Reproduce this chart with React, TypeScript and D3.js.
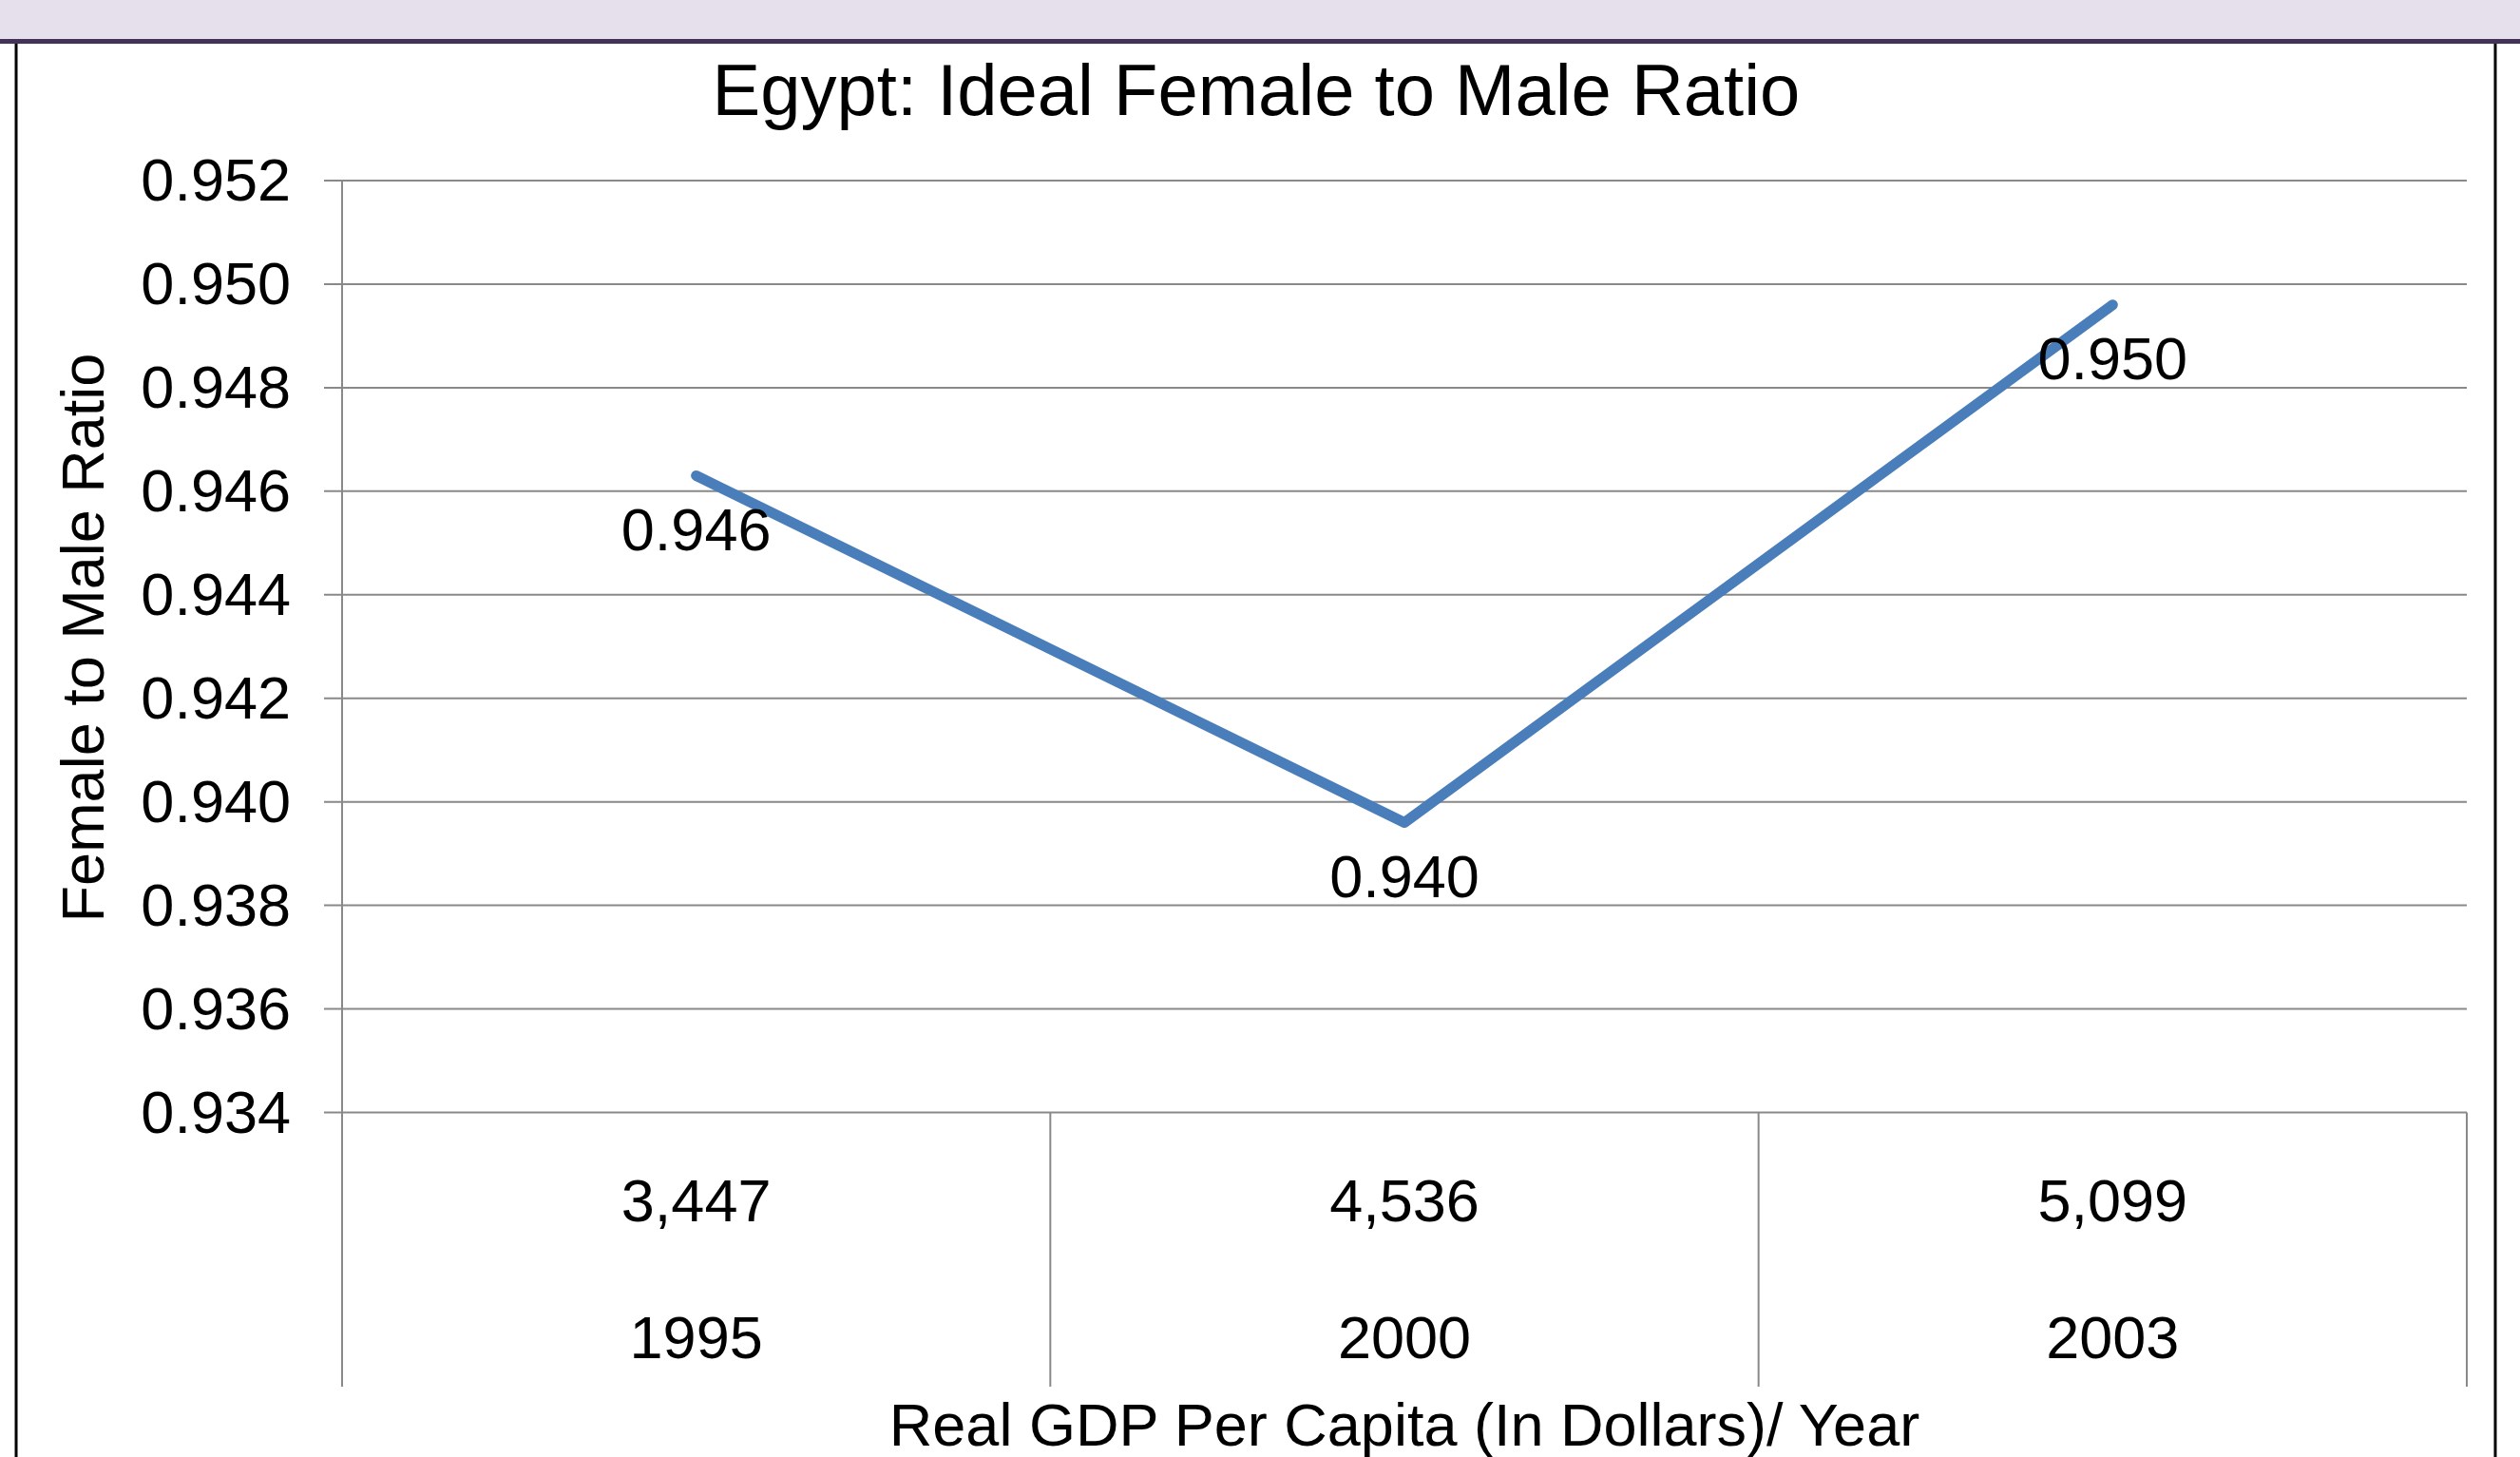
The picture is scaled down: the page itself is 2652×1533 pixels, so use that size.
import React from "react";
import * as d3 from "d3";

const years = ["1995", "2000", "2003"];
const gdpLabels = ["3,447", "4,536", "5,099"];
const ratios = [0.9463, 0.9396, 0.9496];
const ratioLabels = ["0.946", "0.940", "0.950"];
const yTicks = [0.934, 0.936, 0.938, 0.94, 0.942, 0.944, 0.946, 0.948, 0.95, 0.952];

const W = 2652;
const H = 1533;
const FONT = "'Liberation Sans', Arial, sans-serif";

export default function App() {
  const plotL = 360;
  const plotR = 2596;
  const plotT = 190;
  const plotB = 1170.5;
  const catBottom = 1459;

  const x = d3.scaleBand<string>().domain(years).range([plotL, plotR]).paddingInner(0).paddingOuter(0);
  const y = d3.scaleLinear().domain([0.934, 0.952]).range([plotB, plotT]);
  const cx = (yr: string) => (x(yr) as number) + x.bandwidth() / 2;

  const pts = years.map((yr, i) => ({ yr, v: ratios[i], label: ratioLabels[i], gdp: gdpLabels[i] }));
  const line = d3
    .line<{ yr: string; v: number }>()
    .x((d) => cx(d.yr))
    .y((d) => y(d.v));

  const grid = "#898989";
  const dividers = [...years.map((yr) => x(yr) as number), plotR];

  return (
    <svg
      width={W}
      height={H}
      viewBox={`0 0 ${W} ${H}`}
      style={{ position: "absolute", left: 0, top: 0, display: "block", background: "#fff" }}
      fontFamily={FONT}
    >
      <rect x={0} y={0} width={W} height={H} fill="#ffffff" />
      {/* top band */}
      <rect x={0} y={0} width={W} height={41} fill="#E5E0EC" />
      <rect x={0} y={41} width={W} height={5} fill="#433357" />
      {/* side borders */}
      <line x1={17} y1={46} x2={17} y2={H} stroke="#000" strokeWidth={3} />
      <line x1={2626} y1={46} x2={2626} y2={H} stroke="#000" strokeWidth={3} />

      {/* title */}
      <text x={1322} y={121} textAnchor="middle" fontSize={76} fill="#000">
        Egypt: Ideal Female to Male Ratio
      </text>

      {/* gridlines + y ticks */}
      {yTicks.map((t) => (
        <g key={t}>
          <line x1={plotL - 19} x2={plotR} y1={y(t)} y2={y(t)} stroke={grid} strokeWidth={2} />
          <text x={306} y={y(t)} dy="0.34em" textAnchor="end" fontSize={63} fill="#000">
            {d3.format(".3f")(t)}
          </text>
        </g>
      ))}

      {/* left axis and category dividers */}
      <line x1={plotL} x2={plotL} y1={plotT} y2={catBottom} stroke={grid} strokeWidth={2} />
      {dividers.slice(1).map((dx, i) => (
        <line key={i} x1={dx} x2={dx} y1={plotB} y2={catBottom} stroke={grid} strokeWidth={2} />
      ))}

      {/* category labels */}
      {pts.map((p) => (
        <g key={p.yr}>
          <text x={cx(p.yr)} y={1265} dy="0.31em" textAnchor="middle" fontSize={63} fill="#000">
            {p.gdp}
          </text>
          <text x={cx(p.yr)} y={1409} dy="0.31em" textAnchor="middle" fontSize={63} fill="#000">
            {p.yr}
          </text>
        </g>
      ))}

      {/* axis titles */}
      <text x={(plotL + plotR) / 2} y={1500} dy="0.34em" textAnchor="middle" fontSize={63} fill="#000">
        Real GDP Per Capita (In Dollars)/ Year
      </text>
      <text
        transform={`translate(88, 671) rotate(-90)`}
        dy="0.34em"
        textAnchor="middle"
        fontSize={63}
        fill="#000"
      >
        Female to Male Ratio
      </text>

      {/* series line */}
      <path d={line(pts) || ""} fill="none" stroke="#4A7EBB" strokeWidth={11} strokeLinecap="round" strokeLinejoin="round" />

      {/* data labels */}
      {pts.map((p) => (
        <text key={p.yr} x={cx(p.yr)} y={y(p.v) + 59} dy="0.31em" textAnchor="middle" fontSize={63} fill="#000">
          {p.label}
        </text>
      ))}
    </svg>
  );
}
